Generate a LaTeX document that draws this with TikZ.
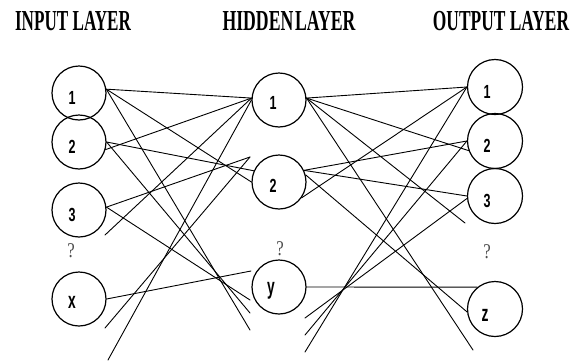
\documentclass[tikz,border=0pt]{standalone}
\usepackage{fontspec}
\usepackage{graphicx}
\setmainfont{Liberation Serif}
\newfontfamily\tagfont{Liberation Sans}
\newcommand{\narrowtxt}[2]{\scalebox{#1}[1]{#2}}
\begin{document}
\begin{tikzpicture}[x=1pt,y=-1pt,
  neuron/.style={draw, circle, line width=1.2pt, minimum size=54pt, inner sep=0pt},
  wire/.style={line width=0.9pt, line cap=round},
  tag/.style={inner sep=0pt, font=\tagfont\bfseries\fontsize{19}{19}\selectfont},
  ltag/.style={inner sep=0pt, font=\tagfont\bfseries\fontsize{23}{23}\selectfont},
  title/.style={inner sep=0pt, font=\bfseries\fontsize{29}{29}\selectfont},
  gap/.style={inner sep=0pt, text=black!70, font=\fontsize{21}{21}\selectfont}]

\useasboundingbox (0,0) rectangle (576,362);
\fill[white] (0,0) rectangle (576,362);

% layer titles
\node[title] (tin)  at (73,21)  {\narrowtxt{0.59}{INPUT LAYER}};
\node[title] (thid) at (289,21) {\narrowtxt{0.61}{HIDDEN\hspace{0.1em}LAYER}};
\node[title] (tout) at (501,21) {\narrowtxt{0.60}{OUTPUT LAYER}};

% neurons
\node[neuron] (i1) at (79,93)  {};
\node[neuron] (i2) at (79,142) {};
\node[neuron] (i3) at (79,210) {};
\node[neuron] (ix) at (79,299) {};
\node[neuron] (h1) at (279,100) {};
\node[neuron] (h2) at (279,182) {};
\node[neuron] (hy) at (279,287) {};
\node[neuron, minimum size=55pt] (o1) at (495,87)  {};
\node[neuron, minimum size=55pt] (o2) at (495,141) {};
\node[neuron, minimum size=55pt] (o3) at (495,196) {};
\node[neuron, minimum size=55pt] (oz) at (495,309) {};

% neuron labels
\path (i1) ++(-7,5) node[tag] (i1t) {\narrowtxt{0.66}{1}};
\path (i2) ++(-7,5) node[tag] (i2t) {\narrowtxt{0.66}{2}};
\path (i3) ++(-7,5) node[tag] (i3t) {\narrowtxt{0.66}{3}};
\path (ix) ++(-7,3) node[ltag] (ixt) {\narrowtxt{0.6}{x}};
\path (h1) ++(-6,3) node[tag] (h1t) {\narrowtxt{0.66}{1}};
\path (h2) ++(-6,4) node[tag] (h2t) {\narrowtxt{0.66}{2}};
\path (hy) ++(-8,4) node[ltag] (hyt) {\narrowtxt{0.6}{y}};
\path (o1) ++(-8,5) node[tag] (o1t) {\narrowtxt{0.66}{1}};
\path (o2) ++(-8,5) node[tag] (o2t) {\narrowtxt{0.66}{2}};
\path (o3) ++(-8,5) node[tag] (o3t) {\narrowtxt{0.66}{3}};
\path (oz) ++(-10,6) node[ltag] (ozt) {\narrowtxt{0.6}{z}};

% elision marks between the last two neurons of each layer
\node[gap] (gi) at (71,251)  {\narrowtxt{0.8}{?}};
\node[gap] (gh) at (280,249) {\narrowtxt{0.8}{?}};
\node[gap] (go) at (487,252) {\narrowtxt{0.8}{?}};

% loose wire ends
\coordinate (a1) at (250,330);
\coordinate (a2) at (250,313);
\coordinate (a3) at (250,300);
\coordinate (h2in) at (250,157);
\coordinate (hyin) at (251,271);
\coordinate (b3) at (105,235);
\coordinate (bx1) at (108,360);
\coordinate (bx2) at (105,328);
\coordinate (c3) at (465,223);
\coordinate (cz) at (473,350);
\coordinate (d1) at (305,352);
\coordinate (d2) at (305,335);
\coordinate (d3) at (305,318);

% input -> hidden
\draw[wire] (i1.8) -- (h1.176);
\draw[wire] (i1.8) -- (h2.180);
\draw[wire] (i1.8) -- (a1);
\draw[wire] (i2.-16) -- (h1.176);
\draw[wire] (i2.0) -- (h2.156);
\draw[wire] (i2.0) -- (a2);
\draw[wire] (b3) -- (h1.176);
\draw[wire] (i3.6) -- (h2in);
\draw[wire] (i3.6) -- (a3);
\draw[wire] (bx1) -- (h1.180);
\draw[wire] (bx2) -- (h2in);
\draw[wire] (ix.east) -- (hyin);

% hidden -> output
\draw[wire] (h1.4) -- (o1.180);
\draw[wire] (h1.4) -- (o2.200);
\draw[wire] (h1.4) -- (c3);
\draw[wire] (h1.4) -- (cz);
\draw[wire] (h2.-35) -- (o1.180);
\draw[wire] (h2.25) -- (o2.180);
\draw[wire] (h2.25) -- (o3.180);
\draw[wire] (h2.15) -- (oz.186);
\draw[wire] (d1) -- (o1.180);
\draw[wire] (d2) -- (o2.180);
\draw[wire] (d3) -- (o3.185);
\draw[wire] (hy.east) -- (oz.129);
\end{tikzpicture}
\end{document}
